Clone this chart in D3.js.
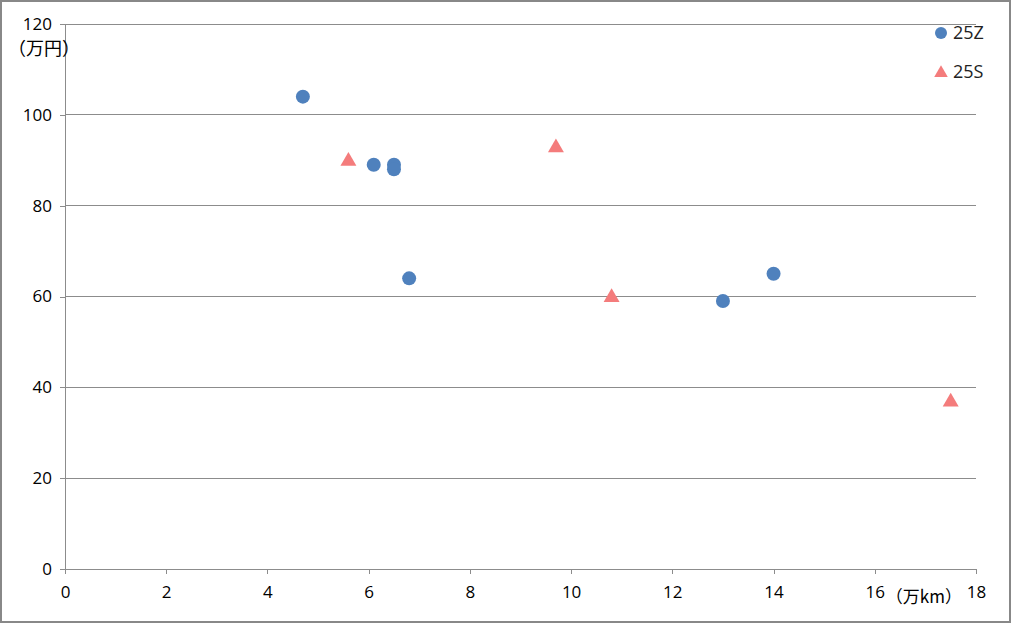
<!DOCTYPE html>
<html><head><meta charset="utf-8">
<script src="https://d3js.org/d3.v7.min.js"></script>
<style>body{margin:0;background:#fff;} svg{display:block;}</style>
</head><body>
<script>
const seriesNames = ["25Z", "25S"];
const zX = [4.7, 6.1, 6.5, 6.5, 6.8, 13.0, 14.0];
const zY = [104, 89, 89, 88, 64, 59, 65];
const sX = [5.6, 9.7, 10.8, 17.5];
const sY = [90, 93, 60, 37];
const xTicks = [0, 2, 4, 6, 8, 10, 12, 14, 16, 18];
const yTicks = [0, 20, 40, 60, 80, 100, 120];
const xUnit = "（万km）";
const yUnit = "（万円）";
const colors = ["#4f81bd", "#f47c7c"];

const W = 1011, H = 623;
const svg = d3.select("body").append("svg").attr("width", W).attr("height", H);
svg.append("rect").attr("x", 1).attr("y", 1).attr("width", W - 2).attr("height", H - 2)
  .attr("fill", "#fff").attr("stroke", "#888").attr("stroke-width", 2);

const x = d3.scaleLinear().domain([0, 18]).range([65, 976]);
const y = d3.scaleLinear().domain([0, 120]).range([569, 24]);
const font = "'Open Sans', 'Liberation Sans', Arial, sans-serif";
const cjk = "'Noto Sans CJK JP', sans-serif";

// gridlines
svg.append("g").selectAll("line").data(yTicks.filter(d => d > 0)).join("line")
  .attr("x1", x(0)).attr("x2", x(18)).attr("y1", d => y(d)).attr("y2", d => y(d))
  .attr("stroke", "#8c8c8c").attr("stroke-width", 1).attr("shape-rendering", "crispEdges");

// y axis
const ya = svg.append("g").attr("transform", `translate(${x(0)},0)`)
  .call(d3.axisLeft(y).tickValues(yTicks).tickSize(5).tickSizeOuter(0).tickPadding(8));
ya.select(".domain").attr("stroke", "#8c8c8c").attr("shape-rendering", "crispEdges");
ya.selectAll(".tick line").attr("stroke", "#8c8c8c").attr("shape-rendering", "crispEdges");
ya.selectAll("text").attr("font-family", font).attr("font-size", 17).attr("fill", "#000");

// x axis
const xa = svg.append("g").attr("transform", `translate(0,${y(0)})`)
  .call(d3.axisBottom(x).tickValues(xTicks).tickSize(5).tickSizeOuter(0).tickPadding(12));
xa.select(".domain").attr("stroke", "#8c8c8c").attr("shape-rendering", "crispEdges");
xa.selectAll(".tick line").attr("stroke", "#8c8c8c").attr("shape-rendering", "crispEdges");
xa.selectAll("text").attr("font-family", font).attr("font-size", 17).attr("fill", "#000");

// units
svg.append("text").attr("x", 8).attr("y", 55).text(yUnit)
  .attr("font-family", cjk).attr("font-size", 18).attr("fill", "#000");
svg.append("text").attr("x", 962).attr("y", 603).attr("text-anchor", "end").text(xUnit)
  .attr("font-family", cjk).attr("font-size", 17).attr("fill", "#000");

// points
const zData = zX.map((v, i) => ({x: v, y: zY[i]}));
const sData = sX.map((v, i) => ({x: v, y: sY[i]}));
svg.append("g").selectAll("circle").data(zData).join("circle")
  .attr("cx", d => x(d.x)).attr("cy", d => y(d.y)).attr("r", 7).attr("fill", colors[0]);
const tri = d3.symbol().type(d3.symbolTriangle).size(110);
svg.append("g").selectAll("path").data(sData).join("path")
  .attr("d", tri).attr("transform", d => `translate(${x(d.x)},${y(d.y) + 1})`).attr("fill", colors[1]);

// legend
const lg = svg.append("g");
lg.append("circle").attr("cx", 941).attr("cy", 33).attr("r", 6).attr("fill", colors[0]);
lg.append("path").attr("d", d3.symbol().type(d3.symbolTriangle).size(80)).attr("transform", "translate(941,73)").attr("fill", colors[1]);
lg.append("text").attr("x", 953).attr("y", 39).text(seriesNames[0]).attr("font-family", font).attr("font-size", 18).attr("fill", "#222");
lg.append("text").attr("x", 953).attr("y", 78).text(seriesNames[1]).attr("font-family", font).attr("font-size", 18).attr("fill", "#222");
</script>
</body></html>
